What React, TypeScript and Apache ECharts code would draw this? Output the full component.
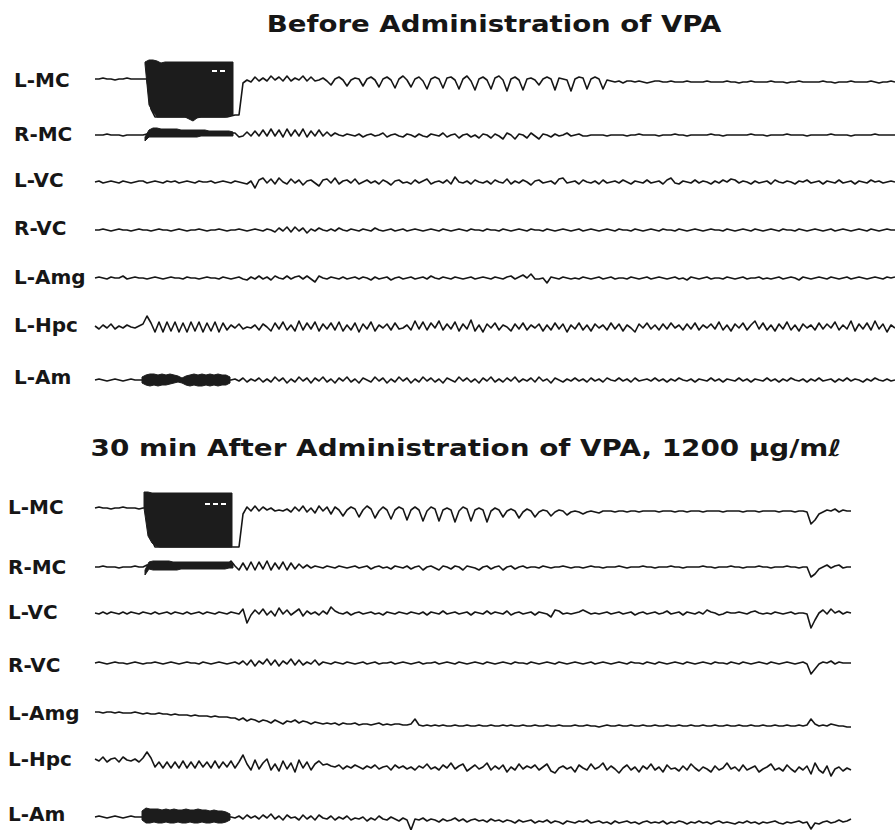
import React, { useEffect, useRef } from "react";
import * as echarts from "echarts";

// ---------- text ----------
const TITLE_BEFORE = "Before Administration of VPA";
const TITLE_AFTER = "30 min After Administration of VPA, 1200 μg/mℓ";
const CHANNELS = ["L-MC", "R-MC", "L-VC", "R-VC", "L-Amg", "L-Hpc", "L-Am"];

// ---------- traces (sample step = 1 unit, deflection in μV-like units, up = positive) ----------
// Before administration (201 samples)
const beforeLMC = [
  0, 0, 1, 0, 0, -1, 0, 0, 1, 0, 0, 0, 0, 0, -30, -38, -38, -38, -38, -38,
  -38, -38, -38, -38, -38, -38, -38, -38, -38, -38, -38, -38, -38, -38, -37, -36, -36, -4, -1, -3,
  2, -2, 1, -2, 3, -1, 2, -2, 3, -2, 1, -1, 3, -2, 2, -2, -1, 1, -2, -6,
  0, 2, -1, -7, -1, 1, 0, -7, 0, 2, -1, -8, 0, 2, -1, -9, 0, 3, -1, -8,
  0, 2, -2, -10, 0, 2, 0, -9, 1, 2, -1, -10, 0, 3, -2, -11, 0, 2, -1, -10,
  1, 3, -1, -12, 0, 2, -1, -11, 0, 1, -1, -6, 0, 2, 0, -11, 1, 0, -1, -12,
  0, 2, 1, -10, 0, 2, 0, -10, -1, -2, -3, -2, -4, -2, -2, -3, -2, -3, -4, -3,
  -2, -2, -3, -3, -2, -3, -3, -3, -2, -3, -3, -3, -3, -2, -3, -3, -3, -3, -2, -3,
  -3, -4, -3, -3, -2, -3, -3, -3, -3, -2, -3, -3, -3, -4, -3, -3, -2, -3, -3, -3,
  -3, -3, -2, -3, -3, -4, -3, -3, -3, -2, -3, -3, -3, -3, -2, -3, -4, -3, -3, -2, -3,
];
const beforeRMC = [
  0, 0, 0, 1, 0, 0, 0, -1, 0, 0, 0, 0, 0, 1, 2, 2, 2, 2, 2, 2,
  2, 2, 2, 2, 2, 2, 2, 2, 2, 2, 2, 2, 2, 2, 2, 2, -2, -1, 3, -1,
  4, -1, 5, -1, 6, -1, 5, -2, 6, -1, 5, -1, 6, -2, 4, -1, 5, -1, 3, -1,
  2, 0, -1, 1, 0, -1, 1, -2, 0, 1, -1, 0, 2, -2, 0, 1, -1, -2, 1, 0,
  -2, 1, -1, -2, 1, 0, -1, 2, -2, 0, 1, -3, 0, 1, -2, 0, -3, 1, 0, -3,
  1, -1, -4, 2, 0, -4, 1, 0, -3, 2, -1, -4, 1, 0, -2, 1, -1, 0, 2, -1,
  0, 1, -1, -1, 0, 0, 0, 0, -1, 0, 0, 0, 0, -1, 0, 0, 1, 0, 0, 0,
  0, -1, 0, 0, 0, 1, 0, 0, -1, 0, 0, 0, 0, 0, 1, 0, 0, -1, 0, 0,
  0, 0, 0, 0, 1, 0, 0, 0, -1, 0, 0, 0, 0, 1, 0, 0, 0, 0, -1, 0,
  0, 0, 0, 0, 1, 0, 0, 0, 0, -1, 0, 0, 0, 0, 0, 1, 0, 0, 0, 0, 0,
];
const beforeLVC = [
  0, 1, -1, 0, 1, 0, -1, 1, 0, -1, 0, 1, 1, -1, 0, 1, 0, -1, 1, 0,
  1, -1, 0, 1, 0, -1, 1, 0, 0, 1, -1, 0, 1, 0, -1, 1, 0, -1, -2, 1,
  -6, 2, 4, -1, 3, -2, 4, 0, -2, 3, -1, 2, -3, 1, 2, -1, -4, 2, 3, -1,
  4, -2, 1, 2, -1, 3, -2, 0, 2, -1, 1, -2, 2, 0, -3, 1, 2, -1, 0, -2,
  2, -1, 1, 3, -2, 0, 1, -1, 2, -2, 5, 0, -1, 1, -2, 2, 0, -1, 1, -2,
  2, 0, -1, 3, -2, 1, -1, 2, 0, -3, 1, 2, -1, 0, 1, -2, 3, 4, -1, 0,
  1, -2, 2, 0, -1, 1, -2, 2, -1, 0, 1, -1, 2, 0, -2, 1, 0, -1, 2, -1,
  0, 1, -2, 2, 4, -1, -2, 1, 0, -1, 2, -1, 1, 0, -2, 1, -1, 2, 0, 3,
  2, -1, 1, 0, -2, 1, -1, 0, 1, -2, 2, 0, -1, 1, 0, -2, 1, 0, 2, -1,
  0, 1, -2, 1, 0, -1, 2, -1, 0, 1, -2, 1, 0, -1, 2, 0, 1, -1, 0, 1, 0,
];
const beforeRVC = [
  0, 0, 1, 0, -1, 0, 1, 0, 0, -1, 0, 1, 0, 0, -1, 0, 1, 0, 0, -1,
  0, 1, 0, -1, 0, 0, 1, 0, -1, 0, 0, 1, 0, -1, 0, 0, 1, 0, -1, 0,
  1, 0, -1, 1, 0, -2, 2, -1, 3, -2, 3, -1, 2, -3, 1, -1, 2, 0, -1, 1,
  -1, 2, 0, -1, 1, 0, -1, 1, 0, -1, 2, 0, -1, 0, 1, -1, 0, 1, -1, 0,
  1, 0, -1, 0, 1, 0, -1, 1, 0, -1, 0, 1, 0, -1, 1, 0, 0, -1, 1, 0,
  0, -1, 1, 0, -1, 0, 1, 0, -1, 1, 0, 0, -1, 1, 0, -1, 0, 1, 0, -1,
  0, 1, -1, 0, 1, 0, -1, 0, 1, 0, -1, 1, 0, 0, -1, 1, 0, -1, 0, 1,
  0, -1, 1, 0, 0, -1, 1, 0, -1, 0, 1, 0, -1, 0, 1, 0, 0, -1, 1, 0,
  -1, 0, 1, 0, -1, 1, 0, -1, 0, 1, 0, -1, 1, 0, 0, -1, 1, 0, -1, 0,
  1, 0, -1, 0, 1, -1, 0, 1, 0, -1, 0, 1, 0, -1, 1, 0, -1, 0, 1, 0, 0,
];
const beforeLAmg = [
  0, 1, 0, -1, 1, 0, 0, 2, -1, 0, 1, 0, 0, -1, 0, 1, 0, -1, 0, 1,
  0, 0, -1, 1, 0, 0, -1, 0, 1, 0, 0, -1, 1, 0, -1, 0, 1, -1, -2, 1,
  -1, 2, -1, 1, -2, 2, 0, -1, 2, -1, 1, 2, -1, 2, -1, -4, 2, 0, -1, 1,
  0, -1, 1, -1, 0, 1, -1, 1, 0, -2, 1, -1, 0, 1, -2, 0, 1, -1, 0, 1,
  -1, 0, 1, -1, 2, 0, -1, 1, 0, -1, 1, 0, -1, 0, 1, -1, 0, 1, 0, -1,
  1, 0, -1, 1, 2, -1, 1, 3, 0, 4, -1, -1, 0, -5, 1, 0, -1, 1, 0, -1,
  0, -1, 1, 0, -1, 0, 1, -1, 0, 1, -1, 0, 0, -1, 1, 0, -1, 0, 1, -1,
  0, 1, 0, -1, 0, 1, -1, 0, -2, 1, 0, -1, 0, 1, -1, 0, 0, -1, 1, 0,
  -1, 0, 1, -1, 0, 0, 1, -1, 0, -1, 0, 1, -1, 0, 1, 0, -2, 1, 0, -1,
  0, 1, 0, -1, 1, 0, -1, 0, 1, -1, 0, 1, 0, -1, 0, 1, 0, -1, 1, 0, 1,
];
const beforeLHpc = [
  1, -2, 2, -1, 3, -2, 1, -1, 2, 0, -1, 1, 3, 11, 4, -5, 5, -5, 5, -4,
  5, -5, 4, -5, 5, -4, 5, -5, 4, -4, 5, -5, 4, -3, 2, -1, 3, -2, 0, -1,
  2, -3, 3, 0, -4, 4, -2, 5, -3, 2, -4, 6, -3, 4, -2, 5, -4, 3, -2, 4,
  -3, 5, -4, 2, -3, 4, -5, 3, -2, 5, -4, 2, -1, 3, -3, 4, -2, -1, 2, -3,
  6, -2, 5, -3, 4, -1, 6, -3, 3, -2, 5, -4, 3, -2, 7, -4, 2, -5, 3, -1,
  4, -3, 2, 0, -4, 3, -2, 4, -3, 2, -1, 3, -4, 2, -3, 4, -2, 3, -5, 2,
  -2, 4, -3, 2, -4, 3, -1, 2, -3, 4, -2, 3, -4, 2, -1, -5, 3, -1, 4, -2,
  2, -3, 3, -2, 4, -1, 2, -3, 3, -2, 4, -3, 2, -1, 3, -2, 5, -3, 2, -4,
  3, -1, 4, -3, 2, 6, -2, 4, -3, 2, -4, 3, -2, 5, -3, 2, -4, 3, -1, 2,
  -3, 4, -2, 3, -1, 5, -3, 2, -2, 6, -4, 3, -2, 4, -3, 6, -2, 3, -5, 2, -1,
];
const beforeLAm = [
  0, 1, 0, -1, 0, 1, 0, -1, 0, 1, 0, 0, 0, 0, 0, 0, 0, 0, 0, 0,
  0, 0, 0, 0, 0, 0, 0, 0, 0, 0, 0, 0, 0, 0, 0, 1, -1, 2, -2, 1,
  -1, 2, -2, 1, -2, 3, -1, 2, -3, 1, -2, 3, -1, 2, -3, 2, -1, 3, -2, 1,
  -3, 2, -1, 3, -2, 1, -3, 2, 0, -2, 3, -1, 2, -3, 1, -2, 3, -1, 2, -3,
  1, -2, 3, -1, 2, -2, 1, -3, 2, 0, -2, 3, -1, 2, -2, 1, -3, 2, -1, 3,
  -2, 1, -2, 2, -1, 3, -2, 1, -1, 2, -2, 3, -1, 1, -3, 2, 0, -2, 1, -1,
  2, -1, 1, -2, 2, -1, 1, -2, 2, 0, -1, 2, -1, 1, -2, 2, -1, 0, 1, -1,
  2, -1, 1, -2, 1, -1, 2, 0, -1, 1, -2, 1, 0, -1, 2, -1, 1, -2, 1, 0,
  -1, 2, -1, 1, -2, 1, 0, -1, 2, -1, 1, -2, 1, -1, 2, 0, -1, 1, -2, 1,
  -1, 2, -1, 0, 1, -2, 1, -1, 2, -1, 1, 0, -2, 1, -1, 2, 0, -1, 1, -1, 0,
];

// 30 min after administration (190 samples)
const afterLMC = [
  0, 1, 0, 0, -1, 0, 0, 1, 0, 0, 0, -1, 0, 0, -30, -39, -39, -39, -39, -39,
  -39, -39, -39, -39, -39, -39, -39, -39, -39, -39, -39, -39, -39, -39, -39, -39, -39, -6, 1, -3,
  2, -3, 1, -2, 0, -3, -2, -3, -1, -4, 1, -3, 2, -4, 0, -5, 2, -3, 1, -6,
  1, -2, -8, -2, 1, -1, -9, -2, 2, -1, -10, -3, 1, -2, -11, -2, 1, -1, -12, -2,
  1, -2, -13, -3, 1, -1, -13, -2, 0, -2, -14, -3, 1, -1, -13, -2, 0, -2, -14, -3,
  0, -2, -9, -3, -1, -3, -10, -4, -1, -3, -9, -4, -2, -3, -8, -4, -2, -3, -7, -4,
  -3, -4, -6, -4, -3, -4, -5, -3, -3, -3, -4, -3, -3, -4, -3, -3, -4, -3, -3, -3,
  -3, -4, -3, -3, -3, -4, -3, -3, -4, -3, -3, -3, -4, -3, -3, -3, -3, -4, -3, -3,
  -3, -3, -4, -3, -3, -3, -4, -3, -3, -3, -3, -4, -3, -3, -3, -4, -3, -3, -4, -16,
  -12, -6, -4, -2, -3, -1, -4, -2, -3, -3,
];
const afterRMC = [
  0, 0, 1, 0, 0, 0, -1, 0, 0, 0, 1, 0, 0, 2, 2, 2, 2, 2, 2, 2,
  2, 2, 2, 2, 2, 2, 2, 2, 2, 2, 2, 2, 2, 2, 6, 1, -3, 4, -3, 5,
  -3, 5, -2, 6, -3, 4, -2, 5, -3, 4, -2, 3, -1, 2, -1, 1, 0, -1, 1, 0,
  -1, 1, 0, -1, 0, 1, -1, 0, 1, -2, 0, 1, -1, 0, -2, 1, 0, -1, 1, -2,
  0, 1, -3, 0, 1, -1, -3, 1, 0, -2, 1, 0, -3, 1, 0, -1, -3, 0, 1, -2,
  0, 1, -3, 0, 1, -2, 0, 1, -1, 0, 0, -1, 1, 0, -1, 0, 0, 1, 0, -1,
  0, 0, -1, 0, 1, 0, 0, -1, 0, 0, 0, 1, 0, -1, 0, 0, 0, 1, 0, 0,
  -1, 0, 0, 0, 1, 0, 0, -1, 0, 0, 0, 0, 1, 0, 0, -1, 0, 0, 0, 1,
  0, 0, -1, 0, 0, 0, 1, 0, 0, -1, 0, 0, 0, 1, 0, 0, -1, 0, 0, -10,
  -7, -2, 0, 2, -1, 1, 2, -1, 0, 0,
];
const afterLVC = [
  0, -1, 1, -1, 1, 0, -1, 1, -1, 1, 0, -1, 1, 0, -1, 1, -1, 0, 1, -1,
  1, 0, -1, 1, -1, 0, 1, -1, 1, 0, -1, 1, 0, -1, 1, 0, -1, 4, -10, -2,
  3, -1, 4, -2, 2, -3, 5, -1, 3, -2, 1, 4, -3, 2, -1, 1, -2, 2, -1, 6,
  2, 0, -1, 1, -2, 0, 1, -1, 0, 1, -1, 0, -2, 1, 0, -1, 1, 0, -1, 1,
  0, -1, 1, -2, 1, 0, -1, 2, -1, 0, 1, -1, 0, 1, -2, 1, 0, -1, 2, -1,
  1, 0, -1, 2, -2, 0, 1, -1, 0, 1, -2, 1, 0, -1, -4, 3, 2, -1, 0, -1,
  0, 1, 3, 1, -1, 0, -1, 0, 1, -1, 0, 1, -1, 0, 1, -2, 0, 1, -1, 0,
  1, -1, 0, 2, -1, 0, 1, -2, 1, 0, -1, 1, -1, 3, 1, 0, -2, -1, 1, 0,
  0, 1, 0, -1, 1, 2, 0, -1, 0, -1, 1, 0, -1, 0, 1, -1, 0, 0, -1, -15,
  -7, 0, 3, -1, 4, 0, 2, -1, 1, 0,
];
const afterRVC = [
  0, 1, 0, -1, 0, 1, 0, 0, -1, 0, 1, 0, -1, 0, 0, 1, 0, -1, 0, 1,
  0, -1, 0, 1, 0, 0, -1, 1, 0, -1, 0, 1, 0, -1, 0, 1, -1, 2, -2, 3,
  -3, 2, -1, 4, -2, 3, -3, 2, -1, 4, -2, 3, -2, 1, -1, 3, -2, 1, 0, -1,
  1, 0, -1, 1, 0, -1, 0, 1, -1, 0, 1, -1, 0, 0, 1, -1, 0, 1, 0, -1,
  0, 1, -1, 0, 0, 1, -1, 0, 1, 0, -1, 1, 0, -1, 0, 1, 0, -1, 1, 0,
  -1, 0, 1, 0, -1, 1, 0, 0, -1, 1, 0, -1, 0, 1, 0, -1, 1, 0, -1, 0,
  1, 0, -1, 0, 1, -1, 0, 1, 0, -1, 0, 1, 0, -1, 1, 0, 0, -1, 1, 0,
  -1, 1, 0, -1, 0, 1, 0, -1, 1, 0, -1, 0, 1, 0, -1, 1, 0, 0, -1, 1,
  0, -1, 1, 0, -1, 0, 1, 0, -1, 1, 0, -1, 0, 1, 0, -1, 0, 1, -1, -11,
  -6, -1, 1, 0, 2, -1, 1, 0, 0, 0,
];
const afterLAmg = [
  0, 0, -1, 0, 0, -1, 0, -1, -1, -1, 0, -1, -2, -1, -2, -2, -1, -2, -2, -3,
  -2, -3, -3, -3, -4, -3, -4, -4, -4, -5, -4, -5, -5, -5, -6, -6, -8, -6, -9, -7,
  -8, -10, -8, -9, -11, -8, -10, -12, -9, -10, -8, -11, -9, -10, -12, -10, -11, -12, -11, -12,
  -11, -13, -11, -12, -12, -11, -13, -12, -12, -13, -12, -11, -13, -12, -13, -12, -12, -13, -13, -12,
  -7, -13, -14, -13, -14, -13, -14, -13, -14, -14, -13, -14, -14, -13, -14, -14, -13, -14, -14, -13,
  -14, -14, -13, -14, -13, -14, -14, -13, -14, -14, -13, -14, -14, -13, -14, -14, -13, -14, -14, -14,
  -13, -14, -14, -13, -14, -14, -15, -14, -13, -14, -14, -13, -14, -14, -13, -14, -14, -13, -14, -14,
  -13, -14, -14, -13, -14, -14, -13, -14, -14, -13, -14, -14, -13, -14, -14, -13, -14, -14, -13, -14,
  -14, -13, -14, -14, -13, -14, -14, -13, -14, -14, -13, -14, -14, -13, -14, -14, -13, -14, -13, -7,
  -12, -14, -13, -14, -12, -13, -14, -14, -15, -15,
];
const afterLHpc = [
  1, -1, 3, -2, 1, 2, -2, 3, 0, -1, 1, -2, 2, 8, 2, -7, -2, -8, -2, -8,
  -2, -8, -1, -8, -2, -8, -1, -7, -2, -8, -1, -8, -2, -7, -1, -8, -2, 5, -4, -10,
  0, -9, -3, 1, -10, -4, -11, -1, -9, -3, -12, 0, -8, -2, -10, -4, -1, -5, -4, -6,
  -7, -5, -9, -6, -8, -5, -7, -9, -6, -8, -5, -9, -7, -6, -10, -5, -8, -6, -9, -7,
  -10, -6, -8, -4, -9, -7, -10, -5, -8, -3, -9, -6, -4, -11, -8, -5, -9, -7, -3, -10,
  -6, -9, -5, -12, -7, -10, -4, -9, -6, -8, -5, -10, -7, -4, -11, -13, -8, -6, -9, -7,
  -12, -5, -8, -10, -4, -9, -7, -3, -10, -6, -9, -13, -8, -5, -10, -7, -12, -6, -9, -4,
  -10, -7, -12, -5, -9, -8, -11, -6, -10, -4, -8, -11, -7, -9, -12, -6, -10, -8, -3, -9,
  -7, -11, -5, -10, -8, -6, -12, -9, -7, -4, -10, -8, -11, -5, -9, -12, -7, -10, -6, -14,
  -3, -10, -13, -6, -16, -9, -7, -11, -8, -10,
];
const afterLAm = [
  0, 1, 0, -1, 0, 1, 0, -1, 0, 1, 0, 0, 0, 0, 0, 0, 0, 0, 0, 0,
  0, 0, 0, 0, 0, 0, 0, 0, 0, 0, 0, 0, 0, 0, 0, -1, 1, -2, 2, -1,
  1, -2, 2, -1, 3, -2, 1, -3, 2, -1, 0, -3, 2, -2, 1, -3, 2, -1, -2, 1,
  -3, 0, -2, 1, -3, -1, -2, 0, -4, -1, -3, 1, -2, -3, 0, -2, -4, -1, -3, -13,
  -2, -3, -1, -4, -2, -3, -5, -2, -4, -3, -1, -4, -2, -5, -3, -2, -4, -3, -5, -2,
  -4, -3, -5, -3, -4, -6, -3, -5, -4, -3, -6, -4, -5, -3, -6, -4, -5, -7, -4, -5,
  -6, -4, -5, -3, -6, -5, -4, -6, -5, -7, -4, -6, -5, -4, -6, -5, -7, -5, -4, -6,
  -5, -6, -4, -7, -5, -6, -4, -5, -7, -5, -6, -4, -6, -5, -7, -5, -4, -6, -5, -6,
  -7, -5, -6, -4, -6, -5, -7, -5, -6, -5, -4, -6, -7, -5, -6, -5, -4, -6, -5, -12,
  -6, -7, -5, -4, -6, -5, -3, -5, -4, -2,
];

// ---------- stimulation (saturated pen) envelopes ----------
const beforeLMCStimStart = 12.5;
const beforeLMCStimUpper = [17, 19, 19, 18, 16, 17, 17, 17, 17, 17, 17, 17, 17, 17, 17, 17, 17, 17, 17, 17, 17, 17, 17];
const beforeLMCStimLower = [15, -26, -33, -38, -38, -38, -38, -38, -38, -38, -38, -40, -42, -39, -38, -38, -38, -38, -38, -38, -38, -37, -36];
const beforeLMCStimMark = [29.25, 33.25, 8]; // white pen mark inside the block: from, to, level
const beforeRMCStimStart = 12.5;
const beforeRMCStimUpper = [-2, 5, 7, 7, 6, 6, 6, 6, 6, 5, 5, 5, 5, 5, 5, 5, 4, 4, 4, 4, 4, 4, 3];
const beforeRMCStimLower = [-6, -2, -2, -2, -2, -2, -2, -2, -2, -2, -2, -2, -2, -2, -1, -1, -1, -1, -1, -1, -1, -1, -1];
const beforeLAmStimStart = 11.75;
const beforeLAmStimUpper = [3, 5, 6, 6, 5, 6, 5, 6, 5, 4, 2, 4, 5, 6, 5, 6, 5, 6, 5, 6, 5, 5, 3];
const beforeLAmStimLower = [-3, -5, -6, -5, -6, -5, -5, -4, -3, -2, -3, -5, -6, -5, -6, -6, -5, -6, -5, -6, -5, -5, -3];
const afterLMCStimStart = 12.25;
const afterLMCStimUpper = [16, 16, 15, 15, 15, 15, 15, 15, 15, 15, 15, 15, 15, 15, 15, 15, 15, 15, 15, 15, 15, 15, 15];
const afterLMCStimLower = [0, -28, -35, -38, -39, -39, -39, -39, -39, -39, -39, -39, -39, -39, -39, -39, -39, -39, -39, -39, -39, -39, -39];
const afterLMCStimMark = [27.5, 33, 4];
const afterRMCStimStart = 12.5;
const afterRMCStimUpper = [-3, 5, 6, 6, 6, 6, 6, 5, 5, 5, 5, 5, 5, 5, 5, 5, 5, 5, 5, 5, 5, 5, 4];
const afterRMCStimLower = [-8, -2, -3, -3, -3, -3, -3, -3, -3, -2, -2, -2, -2, -2, -2, -2, -2, -2, -2, -2, -2, -1, -1];
const afterLAmStimStart = 11.75;
const afterLAmStimUpper = [6, 9, 8, 8, 8, 7, 8, 7, 8, 7, 7, 8, 7, 7, 8, 7, 7, 6, 7, 6, 6, 5, 3];
const afterLAmStimLower = [-3, -6, -6, -5, -6, -6, -5, -6, -6, -5, -6, -6, -5, -6, -6, -5, -6, -6, -5, -6, -6, -5, -3];

// ---------- layout ----------
const W = 895;
const H = 830;
const PLOT_LEFT = 95;
const PLOT_WIDTH = 800;
const SAMPLE_MAX = 200;
const HALF = 12; // grid half-height in px (1 unit = 1 px); marks may overflow (clip off)
const BASE_BEFORE = [79, 135, 182, 230, 278, 327, 380];
const BASE_AFTER = [508, 567, 613, 663, 712, 760, 817];
const LABEL_Y_BEFORE = [80, 134, 180, 228, 277, 325, 377];
const LABEL_Y_AFTER = [507, 567, 612, 665, 713, 759, 814];
const INK = "#161616";

export default function App() {
  const ref = useRef<HTMLDivElement>(null);

  useEffect(() => {
    if (!ref.current) return;
    const chart = echarts.init(ref.current, undefined, { renderer: "svg" });

    const beforeTraces = [beforeLMC, beforeRMC, beforeLVC, beforeRVC, beforeLAmg, beforeLHpc, beforeLAm];
    const afterTraces = [afterLMC, afterRMC, afterLVC, afterRVC, afterLAmg, afterLHpc, afterLAm];
    const rows: { data: number[]; base: number }[] = [];
    beforeTraces.forEach((d, i) => rows.push({ data: d, base: BASE_BEFORE[i] }));
    afterTraces.forEach((d, i) => rows.push({ data: d, base: BASE_AFTER[i] }));

    const bands: { row: number; start: number; upper: number[]; lower: number[]; mark?: number[] }[] = [
      { row: 0, start: beforeLMCStimStart, upper: beforeLMCStimUpper, lower: beforeLMCStimLower, mark: beforeLMCStimMark },
      { row: 1, start: beforeRMCStimStart, upper: beforeRMCStimUpper, lower: beforeRMCStimLower },
      { row: 6, start: beforeLAmStimStart, upper: beforeLAmStimUpper, lower: beforeLAmStimLower },
      { row: 7, start: afterLMCStimStart, upper: afterLMCStimUpper, lower: afterLMCStimLower, mark: afterLMCStimMark },
      { row: 8, start: afterRMCStimStart, upper: afterRMCStimUpper, lower: afterRMCStimLower },
      { row: 13, start: afterLAmStimStart, upper: afterLAmStimUpper, lower: afterLAmStimLower },
    ];

    const grid = rows.map((r) => ({
      left: PLOT_LEFT,
      width: PLOT_WIDTH,
      top: r.base - HALF,
      height: HALF * 2,
      containLabel: false,
    }));
    const xAxis = rows.map((_, i) => ({
      type: "value",
      gridIndex: i,
      min: 0,
      max: SAMPLE_MAX,
      show: false,
    }));
    const yAxis = rows.map((_, i) => ({
      type: "value",
      gridIndex: i,
      min: -HALF,
      max: HALF,
      show: false,
    }));

    const series: any[] = rows.map((r, i) => ({
      type: "line",
      xAxisIndex: i,
      yAxisIndex: i,
      data: r.data.map((v, k) => [k, v]),
      symbol: "none",
      showSymbol: false,
      silent: true,
      clip: false,
      lineStyle: { color: INK, width: 1.6, join: "round" },
      z: 2,
    }));

    bands.forEach((b) => {
      series.push({
        type: "custom",
        xAxisIndex: b.row,
        yAxisIndex: b.row,
        silent: true,
        clip: false,
        z: 3,
        data: [[b.start, 0]],
        renderItem: (_params: any, api: any) => {
          const up = b.upper.map((v, k) => api.coord([b.start + k, v]));
          const lo = b.lower.map((v, k) => api.coord([b.start + k, v])).reverse();
          const children: any[] = [
            {
              type: "polygon",
              shape: { points: up.concat(lo) },
              style: { fill: "#1c1c1c", stroke: "#1c1c1c", lineWidth: 1 },
            },
          ];
          if (b.mark) {
            const p1 = api.coord([b.mark[0], b.mark[2]]);
            const p2 = api.coord([b.mark[1], b.mark[2]]);
            children.push({
              type: "line",
              shape: { x1: p1[0], y1: p1[1], x2: p2[0], y2: p2[1] },
              style: { stroke: "#ffffff", lineWidth: 2, lineDash: [5, 3] },
            });
          }
          return { type: "group", children };
        },
      });
    });

    const textStyle = (text: string, size: number, align: string) => ({
      text,
      fill: INK,
      font: `bold ${size}px "DejaVu Sans"`,
      fontFamily: "DejaVu Sans",
      fontWeight: "bold",
      fontSize: size,
      align,
      verticalAlign: "middle",
      textAlign: align,
      textVerticalAlign: "middle",
    });

    const graphic: any[] = [
      { type: "text", x: 494, y: 24, scaleX: 1.2, silent: true, style: textStyle(TITLE_BEFORE, 23, "center") },
      { type: "text", x: 466, y: 448, scaleX: 1.21, silent: true, style: textStyle(TITLE_AFTER, 23, "center") },
    ];
    CHANNELS.forEach((c, i) => {
      graphic.push({ type: "text", x: 14, y: LABEL_Y_BEFORE[i], silent: true, style: textStyle(c, 20, "left") });
      graphic.push({ type: "text", x: 8, y: LABEL_Y_AFTER[i], silent: true, style: textStyle(c, 20, "left") });
    });

    chart.setOption({
      animation: false,
      backgroundColor: "#ffffff",
      grid,
      xAxis,
      yAxis,
      series,
      graphic,
    } as any);

    return () => chart.dispose();
  }, []);

  return (
    <div
      ref={ref}
      style={{ position: "fixed", left: 0, top: 0, width: W, height: H, background: "#fff" }}
    />
  );
}
